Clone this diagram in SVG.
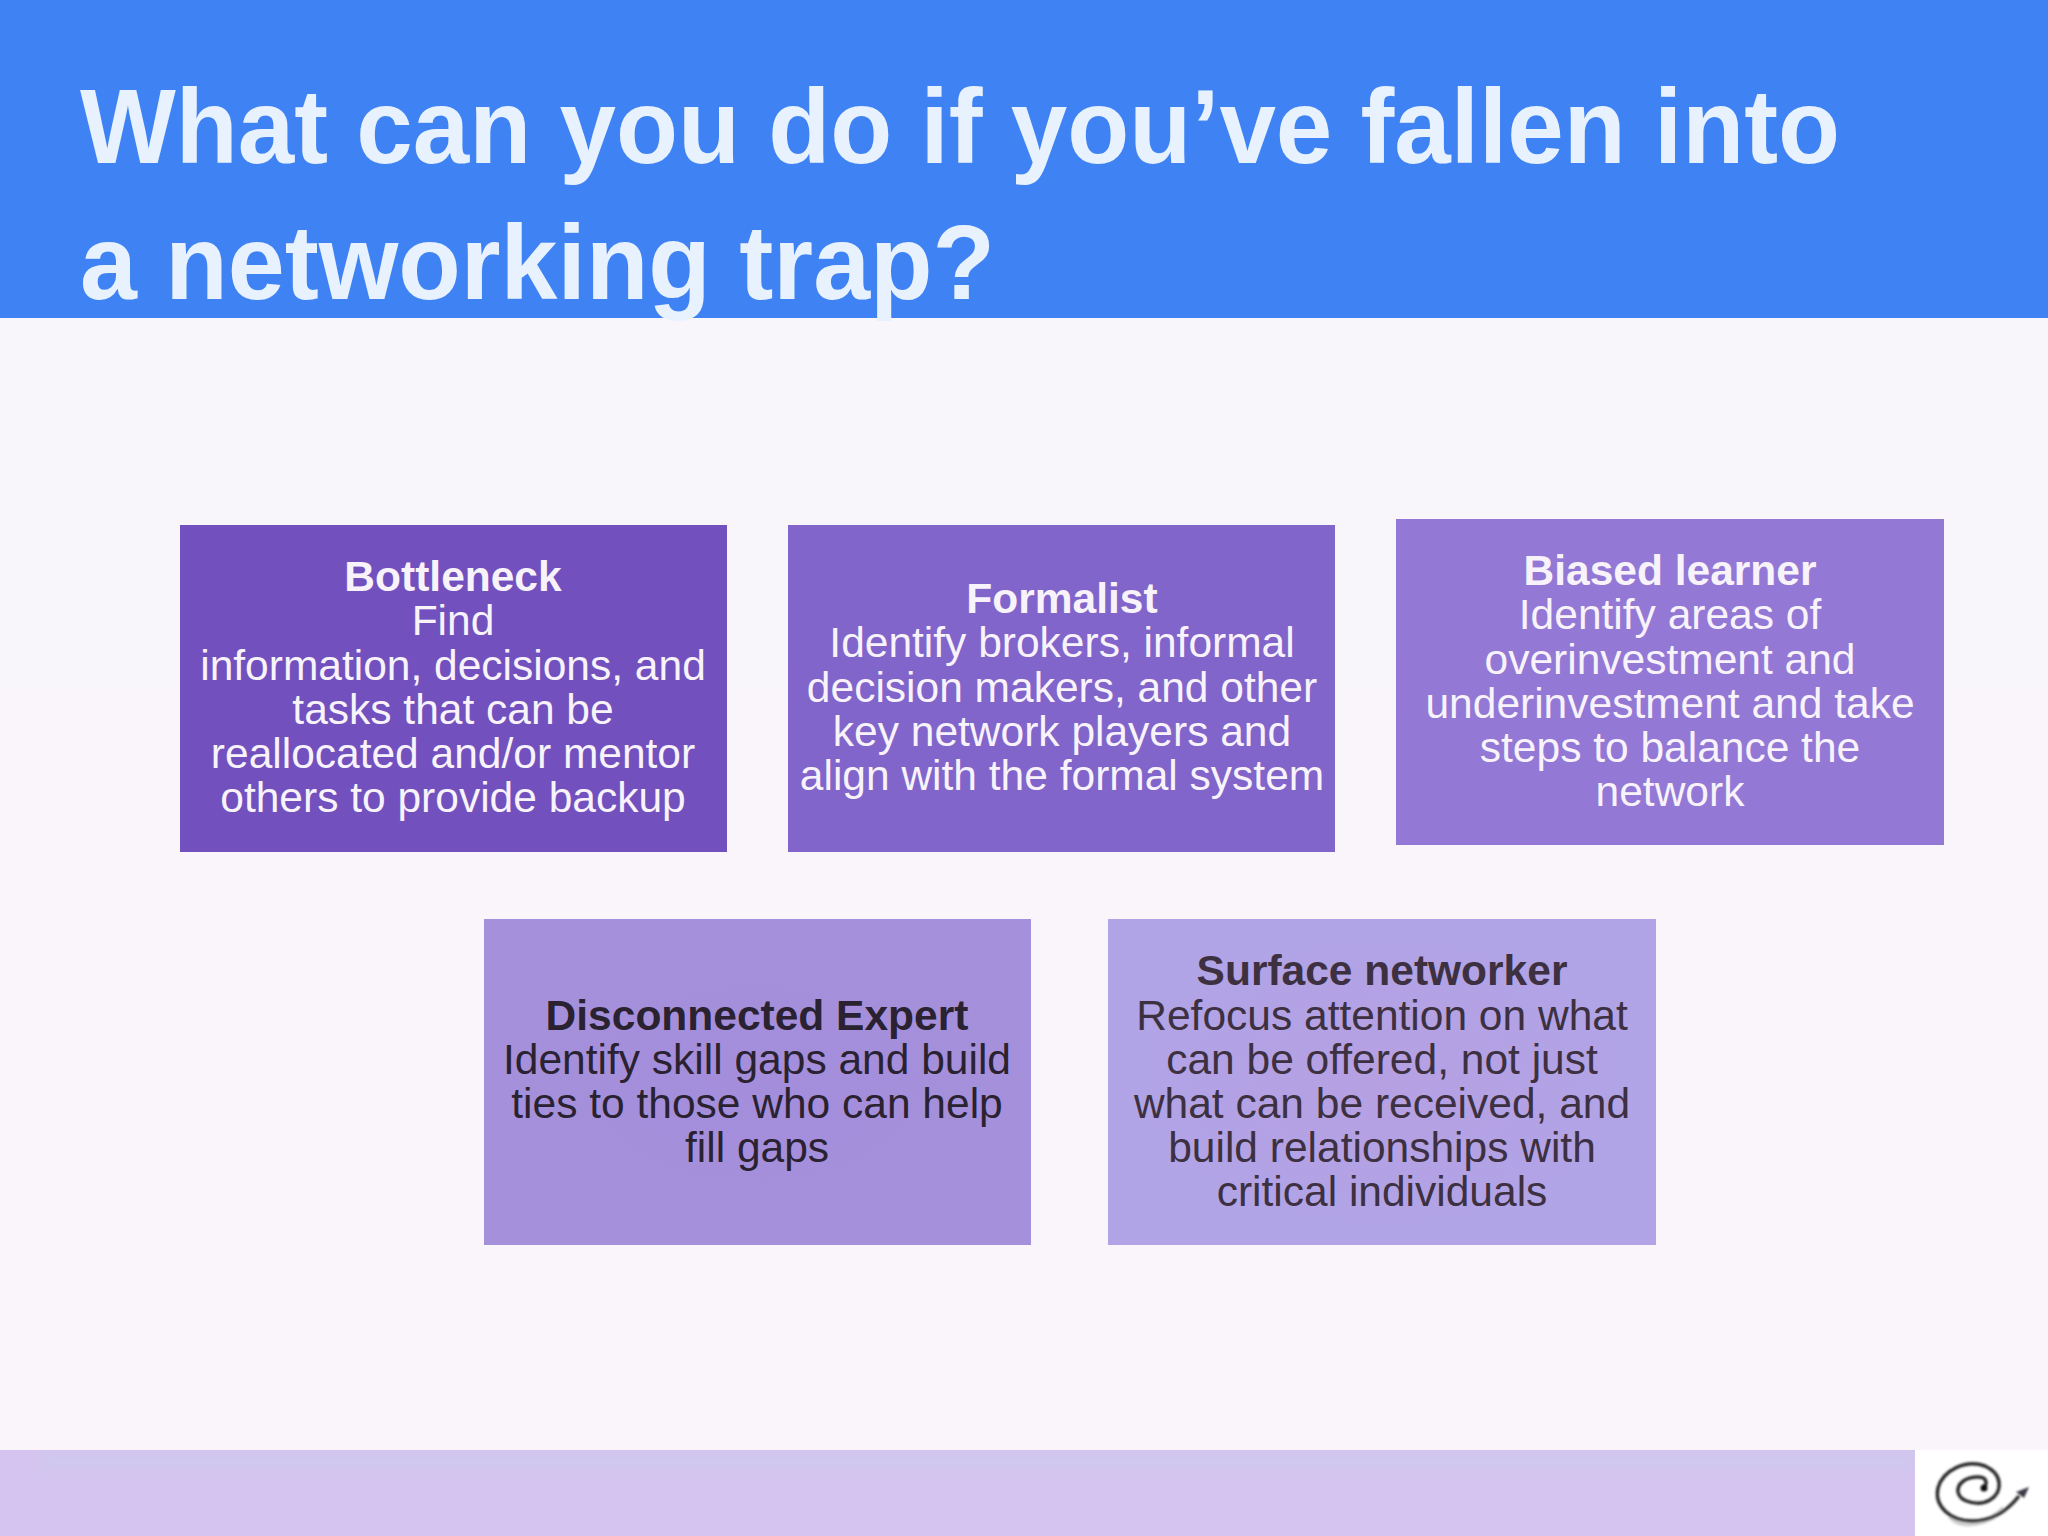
<svg xmlns="http://www.w3.org/2000/svg" width="2048" height="1536" viewBox="0 0 2048 1536">
<defs>
<style>
text{font-family:"Liberation Sans",Arial,sans-serif;text-anchor:middle;font-size:42.5px}
.t{font-size:105px;font-weight:bold;fill:#e8f1fe;text-anchor:start}
.b{font-weight:bold}
.w{fill:#f8f3fb}
.d{fill:#2a2230}
.e{fill:#3d3040}
</style>
<filter id="soft" x="-20%" y="-20%" width="140%" height="140%"><feGaussianBlur stdDeviation="0.9"/></filter>
<filter id="haze" x="-30%" y="-50%" width="160%" height="200%"><feGaussianBlur stdDeviation="5"/></filter>
<clipPath id="footClip"><rect y="1450" width="1915" height="86"/></clipPath>
<linearGradient id="page" x1="0" y1="0" x2="0" y2="1"><stop offset="0" stop-color="#f8f6fb"/><stop offset="1" stop-color="#faf5fb"/></linearGradient>
<radialGradient id="surfaceFill"><stop offset="0" stop-color="#b6a0e2"/><stop offset="1" stop-color="#b0a4e7"/></radialGradient>
<radialGradient id="discFill"><stop offset="0" stop-color="#a48edc"/><stop offset="1" stop-color="#a590db"/></radialGradient>
</defs>
<rect width="2048" height="1536" fill="url(#page)"/>
<g id="header"><rect width="2048" height="318" fill="#3e82f3"/>
<text class="t" x="80" y="163" textLength="1760" lengthAdjust="spacingAndGlyphs">What can you do if you’ve fallen into</text>
<text class="t" x="80" y="299" textLength="915" lengthAdjust="spacingAndGlyphs">a networking trap?</text></g>
<g id="bottleneck"><rect x="180" y="525" width="547" height="327" fill="#7251be"/>
<text class="w b" x="453" y="591">Bottleneck</text>
<text class="w" x="453" y="635">Find</text>
<text class="w" x="453" y="680">information, decisions, and</text>
<text class="w" x="453" y="724">tasks that can be</text>
<text class="w" x="453" y="768">reallocated and/or mentor</text>
<text class="w" x="453" y="812">others to provide backup</text></g>
<g id="formalist"><rect x="788" y="525" width="547" height="327" fill="#8165ca"/>
<text class="w b" x="1062" y="613">Formalist</text>
<text class="w" x="1062" y="657">Identify brokers, informal</text>
<text class="w" x="1062" y="702">decision makers, and other</text>
<text class="w" x="1062" y="746">key network players and</text>
<text class="w" x="1062" y="790">align with the formal system</text></g>
<g id="biased"><rect x="1396" y="519" width="548" height="326" fill="#9379d5"/>
<text class="w b" x="1670" y="585">Biased learner</text>
<text class="w" x="1670" y="629">Identify areas of</text>
<text class="w" x="1670" y="674">overinvestment and</text>
<text class="w" x="1670" y="718">underinvestment and take</text>
<text class="w" x="1670" y="762">steps to balance the</text>
<text class="w" x="1670" y="806">network</text></g>
<g id="disconnected"><rect x="484" y="919" width="547" height="326" fill="url(#discFill)"/>
<text class="d b" x="757" y="1030">Disconnected Expert</text>
<text class="d" x="757" y="1074">Identify skill gaps and build</text>
<text class="d" x="757" y="1118">ties to those who can help</text>
<text class="d" x="757" y="1162">fill gaps</text></g>
<g id="surface"><rect x="1108" y="919" width="548" height="326" fill="url(#surfaceFill)"/>
<text class="e b" x="1382" y="985">Surface networker</text>
<text class="e" x="1382" y="1030">Refocus attention on what</text>
<text class="e" x="1382" y="1074">can be offered, not just</text>
<text class="e" x="1382" y="1118">what can be received, and</text>
<text class="e" x="1382" y="1162">build relationships with</text>
<text class="e" x="1382" y="1206">critical individuals</text></g>
<g id="footer"><rect y="1450" width="1915" height="86" fill="#d4c4ef"/>
<g clip-path="url(#footClip)"><rect x="40" y="1452" width="1875" height="18" fill="#d0c8ee" filter="url(#haze)"/></g>
<rect x="1915" y="1450" width="133" height="86" fill="#fff"/>
<g filter="url(#soft)">
<path d="M1950 1516C1960 1530 1990 1524 2004 1508" fill="none" stroke="#cfcfcf" stroke-width="5"/>
<path d="M1984 1488C1988 1482 1986 1477 1978 1477C1965 1477 1957 1484 1958 1492C1960 1503 1980 1506 1990 1500C2003 1492 2003 1474 1985 1466C1966 1459 1943 1470 1938 1488C1934 1506 1950 1521 1972 1521C1992 1521 2008 1510 2019 1496" fill="none" stroke="#2a2a2a" stroke-width="3.5"/>
<circle cx="1984" cy="1488" r="3.5" fill="#111"/>
<path d="M2016 1492L2029 1487L2024 1498Z" fill="#3a3a4a"/></g></g>
</svg>
